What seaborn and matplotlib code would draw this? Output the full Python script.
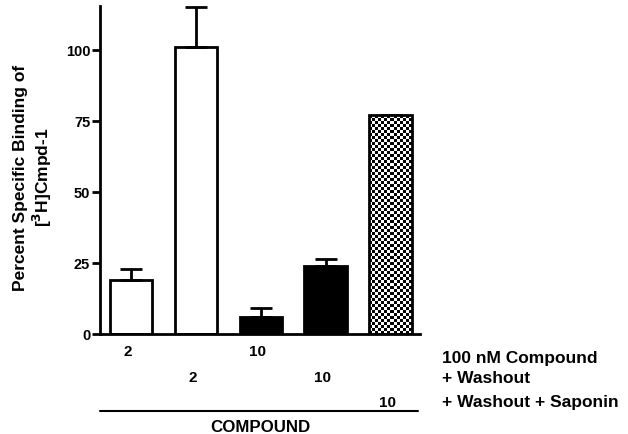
import numpy as np
import pandas as pd
import matplotlib
matplotlib.use("Agg")
import matplotlib.pyplot as plt
import matplotlib.transforms as mtransforms
import seaborn as sns

# ---- data ----
categories = ["A", "B", "C", "D", "E"]
means = [19, 101, 6, 24, 77]
errors = [4, 14, 3, 2.5, 0]
row1_labels = ["2", "", "10", "", ""]
row2_labels = ["", "2", "", "10", ""]
row3_labels = ["", "", "", "", "10"]
row_titles = ["100 nM Compound", "+ Washout", "+ Washout + Saponin"]
group_title = "COMPOUND"
yticks = [0, 25, 50, 75, 100]

sns.set_style("ticks")
plt.rcParams["font.family"] = ["Liberation Sans", "DejaVu Sans"]
plt.rcParams["font.weight"] = "bold"
plt.rcParams["text.color"] = "black"
plt.rcParams["axes.labelcolor"] = "black"
plt.rcParams["ytick.color"] = "black"
plt.rcParams["axes.edgecolor"] = "black"

fig = plt.figure(figsize=(6.28, 4.35), dpi=100)
ax = fig.add_axes([0.159, 0.23, 0.51, 0.754])

df = pd.DataFrame({"cat": categories, "val": means})
fills = ["white", "white", "black", "black", "white"]
sns.barplot(data=df, x="cat", y="val", hue="cat", palette=fills, legend=False,
            ax=ax, width=0.66, edgecolor="black", linewidth=2)

# error bars (upper only)
xs = np.arange(len(categories))
ax.errorbar(xs, means, yerr=[np.zeros(len(errors)), errors], fmt="none",
            ecolor="black", elinewidth=2, capsize=8, capthick=2, zorder=1)

# checkerboard texture for last bar
patch = ax.patches[4]
bb = patch.get_bbox()
ncol, nrow = 14, 73
checker = (np.add.outer(np.arange(nrow), np.arange(ncol)) % 2).astype(float)
im = ax.imshow(checker, cmap="gray", interpolation="nearest", aspect="auto",
               extent=[bb.x0, bb.x1, bb.y0, bb.y1], zorder=2, vmin=0, vmax=1)
im.set_clip_path(patch)
patch.set_zorder(3)
patch.set_facecolor("none")

ax.set_xlim(-0.48, 4.45)
ax.set_ylim(0, 115.5)
ax.set_yticks(yticks)
ax.set_yticklabels([str(t) for t in yticks], fontsize=10.5, fontweight="bold")
ax.tick_params(axis="y", length=6, width=2, pad=1, colors="black")
ax.set_xticks([])
ax.set_xlabel("")
ax.set_ylabel("Percent Specific Binding of\n[$^3$H]Cmpd-1", fontsize=12.5,
              fontweight="bold", linespacing=1.2)
ax.yaxis.set_label_coords(-0.142, 0.48)
sns.despine(ax=ax)
for s in ["left", "bottom"]:
    ax.spines[s].set_linewidth(2)

trans = mtransforms.blended_transform_factory(ax.transData, fig.transFigure)
for labels, yf in [(row1_labels, 0.191), (row2_labels, 0.131), (row3_labels, 0.074)]:
    for x, lab in zip(xs, labels):
        if lab:
            ax.text(x - 0.05, yf, lab, transform=trans, ha="center", va="center",
                    fontsize=11, fontweight="bold")
for title, yf in zip(row_titles, [0.177, 0.131, 0.074]):
    fig.text(0.704, yf, title, ha="left", va="center", fontsize=12.5, fontweight="bold")

fig.add_artist(plt.Line2D([0.159, 0.666], [0.053, 0.053], color="black", lw=1.5,
                          transform=fig.transFigure))
fig.text(0.415, 0.018, group_title, ha="center", va="center", fontsize=12.2,
         fontweight="bold")

fig.savefig("out.png", dpi=100)
